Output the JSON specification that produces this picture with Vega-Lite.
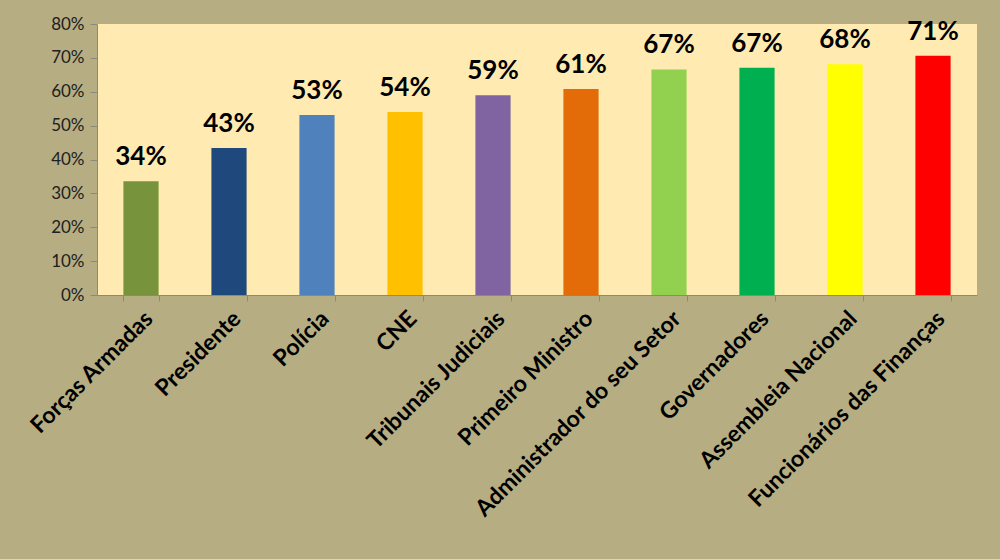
{
  "$schema": "https://vega.github.io/schema/vega-lite/v6.json",
  "width": 880,
  "height": 271,
  "autosize": "none",
  "padding": {"left": 97, "top": 24, "right": 23, "bottom": 264},
  "background": "#B6AD83",
  "config": {
    "view": {"fill": "#FFEBB1", "stroke": null},
    "font": "Lato"
  },
  "data": {
    "values": [
      {"cat": "Forças Armadas", "v": 0.336, "color": "#77933C"},
      {"cat": "Presidente", "v": 0.434, "color": "#1F497D"},
      {"cat": "Polícia", "v": 0.531, "color": "#4F81BD"},
      {"cat": "CNE", "v": 0.54, "color": "#FFC000"},
      {"cat": "Tribunais Judiciais", "v": 0.59, "color": "#8064A2"},
      {"cat": "Primeiro Ministro", "v": 0.608, "color": "#E36C09"},
      {"cat": "Administrador do seu Setor", "v": 0.666, "color": "#92D050"},
      {"cat": "Governadores", "v": 0.671, "color": "#00B050"},
      {"cat": "Assembleia Nacional", "v": 0.681, "color": "#FFFF00"},
      {"cat": "Funcionários das Finanças", "v": 0.706, "color": "#FF0000"}
    ]
  },
  "encoding": {
    "x": {
      "field": "cat", "type": "nominal", "sort": null,
      "scale": {"paddingInner": 0.6, "paddingOuter": 0.3},
      "axis": {
        "title": null, "labelAngle": -45, "labelFontSize": 23, "labelFontWeight": "bold",
        "labelColor": "#000000", "labelPadding": 6, "domainColor": "#8A8A7A",
        "tickColor": "#8A8A7A", "tickBand": "extent", "tickSize": 6, "labelLimit": 400
      }
    },
    "y": {
      "field": "v", "type": "quantitative",
      "scale": {"domain": [0, 0.8]},
      "axis": {
        "title": null, "format": ".0%", "values": [0, 0.1, 0.2, 0.3, 0.4, 0.5, 0.6, 0.7, 0.8],
        "grid": false, "labelFontSize": 17, "labelColor": "#202020",
        "domainColor": "#8A8A7A", "tickColor": "#8A8A7A", "tickSize": 7, "labelPadding": 6
      }
    }
  },
  "layer": [
    {
      "mark": {"type": "bar"},
      "encoding": {"color": {"field": "color", "type": "nominal", "scale": null}}
    },
    {
      "mark": {"type": "text", "baseline": "bottom", "dy": -11, "fontSize": 26, "fontWeight": "bold", "color": "#000000"},
      "encoding": {"text": {"field": "v", "type": "quantitative", "format": ".0%"}}
    }
  ]
}
